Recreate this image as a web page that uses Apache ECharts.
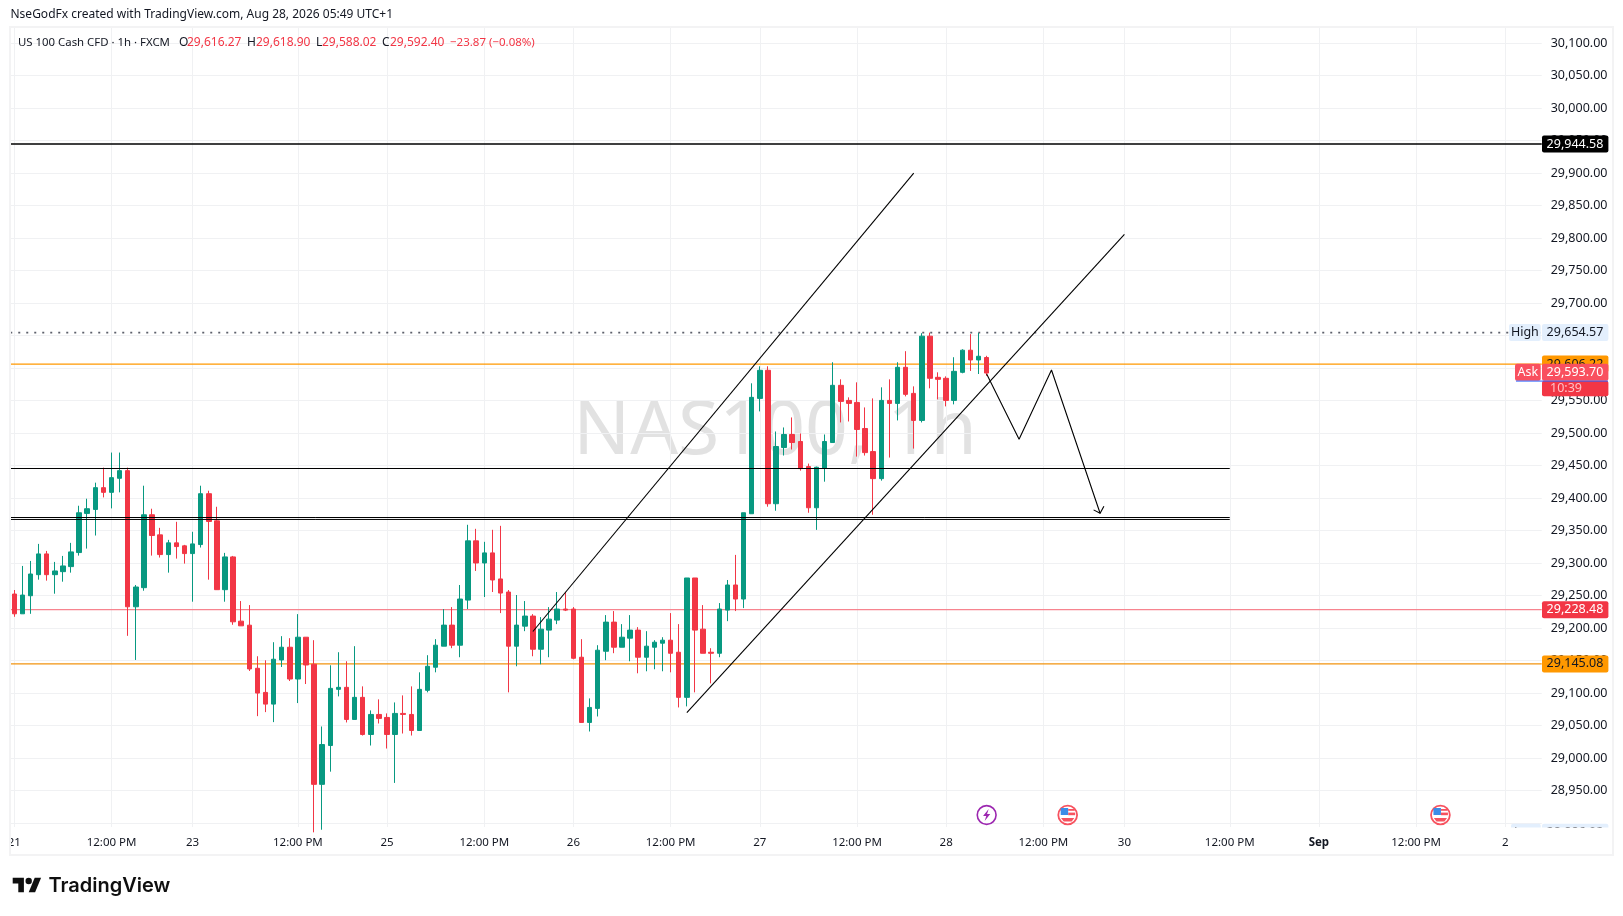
<!DOCTYPE html>
<html><head><meta charset="utf-8">
<style>html,body{margin:0;padding:0;background:#fff}#c{width:1623px;height:916px}</style>
<script src="https://cdn.jsdelivr.net/npm/echarts@6/dist/echarts.min.js"></script>
</head><body><div id="c"></div>
<script>
const opens=[29252.5,29222.1,29249.9,29282.3,29314.2,29282.3,29286.9,29294.7,29316.3,29376.5,29382.6,29416.1,29408.9,29430.5,29442.3,29232.9,29262.3,29374.4,29343.5,29313.2,29331.2,29326.6,29314.7,29328.6,29406.8,29365.1,29259.2,29309.6,29210.8,29204.6,29138.3,29101.2,29083.2,29151.1,29170.7,29121.8,29186.1,29144.5,28959.8,
29019.5,29105.9,29109,29059.6,29093.6,29036.5,29067.3,29062.7,29036.5,29068.9,29067.3,29042.6,29104.4,29139.9,29172.3,29204.7,29173.8,29243.2,29334.3,29300.3,29315.8,29275.7,29255.6,29172.3,29203.1,29218.6,29167.6,29197,29212.4,29229.4,29229.4,29155.3,29055,29076.6,29164.5,29209.3,29170.7,29184.6,29197,29155.3,
29170.7,29176.9,29181.5,29163,29093.6,29277.2,29198.5,29163,29161.4,29227.8,29266.4,29244.8,29376,29553.4,29596.6,29391.4,29477.8,29497.9,29487.1,29448.5,29385.2,29445.9,29485.5,29573.5,29550.3,29547.2,29507.1,29471.6,29430,29550.3,29545.7,29601.2,29561.1,29519.5,29649.1,29585.8,29584.3,29550.3,29593.5,29627.5,29612.5,29616.27];
const closes=[29222.1,29250.9,29283.3,29314.2,29282.3,29288,29295.7,29317.3,29377.5,29383.7,29416.1,29408.9,29431.5,29442.3,29232.9,29263.3,29374.4,29342.5,29313.2,29331.2,29325.5,29314.7,29329.6,29406.8,29364.1,29259.2,29309.6,29209.8,29203.6,29137.3,29100.2,29083.2,29152.2,29170.7,29121.8,29186.1,29143.4,28959.8,29021,
29107.4,29109,29059.6,29093.6,29036.5,29067.3,29061.2,29036.5,29068.9,29067.3,29042.6,29105.9,29141.4,29173.8,29204.7,29173.8,29244.8,29334.3,29300.3,29315.8,29274.1,29254,29172.3,29204.7,29218.6,29167.6,29198.5,29213.9,29229.4,29227.8,29153.7,29055,29078.1,29166.1,29209.3,29170.7,29186.1,29197,29155.3,29172.3,
29178.4,29181.5,29161.4,29093.6,29277.2,29197,29161.4,29161.4,29229.4,29266.4,29244.8,29377.5,29555,29596.6,29391.4,29479.4,29497.9,29485.5,29445.4,29385.2,29447.5,29487.1,29573.5,29548.8,29545.7,29505.6,29470,29430,29550.3,29545.7,29601.2,29559.6,29519.5,29649.1,29584.3,29582.7,29550.3,29595,29627.5,29612.5,29618.2,29592.4];
const lows=[29217.5,29222.1,29222.1,29274.6,29273.1,29253,29271.5,29285.4,29311.6,29322.4,29342.5,29401.1,29384.2,29408.9,29188.2,29151.1,29257.6,29311.6,29308.6,29285.4,29307,29299.3,29240.7,29324,29274.6,29258.7,29240.7,29205.2,29203.6,29134.2,29064.7,29070.9,29055.5,29140.3,29118.7,29084.8,29114.1,28886,28890,
28979.3,29095.1,29055,29059.6,29034.9,29019.5,29053.4,29014.9,28962,29038,29034.9,29042.6,29101.3,29132.1,29172.3,29169.2,29155.3,29229.4,29288,29247.9,29255.6,29223.2,29101.3,29141.4,29195.4,29156.8,29144.5,29155.3,29206.2,29226.3,29152.2,29055,29041.1,29064.2,29150.7,29161.5,29170.7,29149.1,29130.6,29133.7,
29136.8,29133.7,29132.1,29078.1,29079.7,29101.3,29161.4,29115.1,29155.3,29210.8,29226.3,29230.9,29376,29533.4,29386.8,29380.6,29465.5,29474.8,29442.3,29377.5,29351.2,29425.3,29485.5,29516.4,29517.9,29463.9,29465.5,29374.4,29426.9,29462.4,29519.5,29556.5,29476.2,29516.4,29568.9,29551.9,29541.1,29544.2,29592,29595.6,29590.9,29588.02];
const highs=[29258.7,29295.7,29303.4,29329.6,29318.8,29301.9,29311.1,29331.2,29388.3,29399.1,29423.8,29446.9,29470.1,29470.1,29446.9,29266.4,29419.1,29383.7,29354.3,29335.8,29363.6,29328.1,29348.2,29419.1,29411.4,29386.7,29315.8,29311.1,29241.7,29235.5,29156.8,29150.6,29178.4,29187.7,29184.6,29221.6,29186.1,29181.5,29048.8,
29142.9,29163,29149.1,29172.3,29110.5,29073.5,29090.5,29068.9,29085.8,29096.6,29110.5,29132.1,29158.4,29183.1,29229.4,29232.4,29266.4,29359,29352.8,29332.8,29351.3,29357.4,29258.7,29251,29241.7,29221.6,29217,29232.4,29255.6,29255.6,29232.4,29183.1,29092,29173.8,29220.1,29226.3,29206.2,29220.1,29201.6,29195.4,
29181.5,29186.1,29223.2,29206.2,29277.2,29277.2,29235.5,29169.2,29238.6,29274.1,29312.7,29377.5,29576.6,29602.8,29602.8,29502.5,29508.7,29524.1,29499.4,29453.1,29448.5,29497.9,29609,29582.7,29555,29578.1,29539.5,29553.4,29570.4,29582.7,29609,29626,29571.9,29653.7,29654.57,29593.5,29587.3,29616.7,29629,29652.2,29654,29618.9];

const yTicks=[28900,28950,29000,29050,29100,29150,29200,29250,29300,29350,29400,29450,29500,29550,29600,29650,29700,29750,29800,29850,29900,29950,30000,30050,30100];
const yLabelTicks=yTicks.filter(v=>v!==28900);
const tickIndexes=[0,12,22,35,46,58,69,81,92,104,115,127,137,150,161,173,184];
const tickLabels=['21','12:00 PM','23','12:00 PM','25','12:00 PM','26','12:00 PM','27','12:00 PM','28','12:00 PM','30','12:00 PM','Sep','12:00 PM','2'];
const slotCount=189;

const lowerLevels=[29654.57,29606.22,29228.48,29145.08];
const blackLevels=[29944.58,29445.6,29370.2,29367.2];
const blackLevelEnds=[null,150,150,150];
const upperChannelX=[64,111], upperChannelY=[29194.9,29900];
const lowerChannelX=[83,137], lowerChannelY=[29070,29805.5];
const pathX=[120,124,128,134], pathY=[29591,29490.5,29597,29376.7];

const tagPrices=[29944.58,29654.57,29606.22,29228.48,29145.08,28886,29593.7];
const tagTexts=['29,944.58','29,654.57','29,606.22','29,228.48','29,145.08','28,886.02','29,593.70'];
const sideTexts=['','High','','','','Low','Ask'];
const countdownText='10:39';
const eventSlots=[120,130,176];
const eventKinds=['bolt','flag','flag'];

const FONT='"Noto Sans"';
const INK='#131722', GREEN='#089981', RED='#f23645';
const categories=Array.from({length:slotCount},(_,i)=>{const k=tickIndexes.indexOf(i);return k>=0?tickLabels[k]:'';});
const candleData=opens.map((o,i)=>[o,closes[i],lows[i],highs[i]]);
const isTick=i=>tickIndexes.includes(i);
const fmtPrice=v=>v.toLocaleString('en-US',{minimumFractionDigits:2,maximumFractionDigits:2});

const lowerStyles=[
 {stroke:'#5d606b',lineWidth:1.6,lineDash:[2,6]},
 {stroke:'#ff9800',lineWidth:1.3},
 {stroke:'#f7848f',lineWidth:1.2},
 {stroke:'#f2930f',lineWidth:1.4}];

function hLine(params,api,y,xEnd,style){
  const cs=params.coordSys;
  return {type:'line',shape:{x1:cs.x,y1:y,x2:xEnd,y2:y},style:Object.assign({fill:null},style),silent:true};
}
const tagStyles=[
 {bg:'#000000',fg:'#ffffff'},
 {bg:'#e3effd',fg:INK},
 {bg:'#ff9800',fg:INK},
 {bg:'#f23645',fg:'#ffffff'},
 {bg:'#ff9800',fg:INK},
 {bg:'#e3effd',fg:INK},
 {bg:'#f9505f',fg:'#ffffff'}];

function box(x,y,w,h,fill){return {type:'rect',shape:{x,y,width:w,height:h,r:2},style:{fill}};}
function label(x,y,text,fill,align){return {type:'text',x,y,style:{text,fill,font:'12.5px '+FONT,align:align||'center',verticalAlign:'middle'}};}

function renderEvent(params,api){
  const x=api.coord([api.value(0),29000])[0], y=815, k=eventKinds[params.dataIndex];
  if(k==='bolt'){
    return {type:'group',children:[
      {type:'circle',shape:{cx:x,cy:y,r:9.4},style:{fill:'#fff',stroke:'#9c27b0',lineWidth:1.6}},
      {type:'polygon',shape:{points:[[x+2,y-6],[x-3.6,y+1],[x-0.4,y+1],[x-2,y+6],[x+3.6,y-1],[x+0.4,y-1]]},style:{fill:'#9c27b0'}}
    ]};
  }
  return {type:'group',children:[
    {type:'circle',shape:{cx:x,cy:y,r:9.4},style:{fill:'#fff',stroke:'#f7525f',lineWidth:1.8}},
    {type:'rect',shape:{x:x-7,y:y-7,width:7.5,height:7},style:{fill:'#3c8ce7'}},
    {type:'rect',shape:{x:x+0.5,y:y-6,width:6.5,height:1.8},style:{fill:'#f7525f'}},
    {type:'rect',shape:{x:x+0.5,y:y-2.4,width:7,height:2.6},style:{fill:'#f7525f'}},
    {type:'polygon',shape:{points:[[x-6.6,y+3],[x+6.6,y+3],[x+4,y+6.6],[x-4,y+6.6]]},style:{fill:'#f7525f'}}
  ]};
}

const option={
  animation:false,backgroundColor:'#ffffff',
  textStyle:{fontFamily:FONT},
  grid:{left:10.25,top:27,width:8.103*slotCount,height:800,containLabel:false},
  xAxis:{type:'category',data:categories,boundaryGap:true,
    axisLine:{show:false},axisTick:{show:false,alignWithLabel:true,interval:(i)=>isTick(i)},
    splitLine:{show:true,alignWithLabel:true,interval:(i)=>isTick(i),lineStyle:{color:'#f0f1f3',width:1}},
    axisLabel:{interval:(i)=>isTick(i),color:INK,fontSize:11.5,fontFamily:FONT,margin:10,
      formatter:(v)=>v==='Sep'?'{b|Sep}':v,rich:{b:{fontWeight:'bold',fontSize:11.5,fontFamily:FONT,color:INK}}}},
  yAxis:{type:'value',position:'right',scale:true,min:28894.2,max:30124.6,
    axisLine:{show:false},axisTick:{show:false,customValues:yTicks},
    splitLine:{show:true,lineStyle:{color:'#f0f1f3',width:1}},
    axisLabel:{customValues:yLabelTicks,color:INK,fontSize:12.5,fontFamily:FONT,margin:9,padding:[0,0,2,0],showMinLabel:true,showMaxLabel:true,
      formatter:(v)=>fmtPrice(v)}},
  graphic:[
    {type:'text',z:0,silent:true,style:{x:775,y:433,text:'NAS100, 1h',fill:'#e2e2e2',font:'75px '+FONT,align:'center',verticalAlign:'middle'}},
    {type:'rect',z:50,shape:{x:0,y:827.5,width:9.4,height:26},style:{fill:'#fff'}},
    {type:'rect',z:50,shape:{x:1510,y:827.5,width:100,height:14},style:{fill:'#fff'}},
    {type:'rect',z:51,shape:{x:10,y:27,width:1603,height:828},style:{fill:null,stroke:'#f3f3f4',lineWidth:2}},
    {type:'text',z:60,style:{x:10.5,y:15,text:'NseGodFx created with TradingView.com, Aug 28, 2026 05:49 UTC+1',fill:INK,font:'12px '+FONT,verticalAlign:'middle'}},
    {type:'text',z:60,style:{x:18,y:42.5,text:'US 100 Cash CFD · 1h · FXCM',fill:INK,font:'11.4px '+FONT,verticalAlign:'middle'}},
    {type:'text',z:60,style:{x:179,y:42.5,text:'O',fill:INK,font:'12px '+FONT,verticalAlign:'middle'}},
    {type:'text',z:60,style:{x:187,y:42.5,text:'29,616.27',fill:RED,font:'12px '+FONT,verticalAlign:'middle'}},
    {type:'text',z:60,style:{x:247,y:42.5,text:'H',fill:INK,font:'12px '+FONT,verticalAlign:'middle'}},
    {type:'text',z:60,style:{x:256,y:42.5,text:'29,618.90',fill:RED,font:'12px '+FONT,verticalAlign:'middle'}},
    {type:'text',z:60,style:{x:316,y:42.5,text:'L',fill:INK,font:'12px '+FONT,verticalAlign:'middle'}},
    {type:'text',z:60,style:{x:322,y:42.5,text:'29,588.02',fill:RED,font:'12px '+FONT,verticalAlign:'middle'}},
    {type:'text',z:60,style:{x:382,y:42.5,text:'C',fill:INK,font:'12px '+FONT,verticalAlign:'middle'}},
    {type:'text',z:60,style:{x:390,y:42.5,text:'29,592.40',fill:RED,font:'12px '+FONT,verticalAlign:'middle'}},
    {type:'text',z:60,style:{x:450,y:42.5,text:'−23.87 (−0.08%)',fill:RED,font:'11.5px '+FONT,verticalAlign:'middle'}},
    {type:'group',z:60,x:12.7,y:874.6,scaleX:0.8,scaleY:0.8,children:[
      {type:'polygon',z:60,shape:{points:[[0,4],[14,4],[14,22],[7,22],[7,11],[0,11]]},style:{fill:'#0f0f0f'}},
      {type:'polygon',z:60,shape:{points:[[20,22],[27.5,4],[35.5,4],[28,22]]},style:{fill:'#0f0f0f'}},
      {type:'circle',z:60,shape:{cx:20,cy:8,r:4},style:{fill:'#0f0f0f'}}]},
    {type:'text',z:60,style:{x:48.5,y:886,text:'TradingView',fill:'#0f0f0f',font:'600 20px Inter',verticalAlign:'middle'}}
  ],
  series:[
    {type:'custom',name:'levels-under',z:1,clip:true,silent:true,coordinateSystem:'cartesian2d',encode:{y:0},
      data:lowerLevels.map(v=>[v]),
      renderItem:(params,api)=>{
        const y=api.coord([0,api.value(0)])[1], cs=params.coordSys;
        return hLine(params,api,y,cs.x+cs.width,lowerStyles[params.dataIndex]);
      }},
    {type:'candlestick',name:'US100',z:2,data:candleData,barWidth:5,
      itemStyle:{color:GREEN,color0:RED,borderColor:GREEN,borderColor0:RED,borderWidth:1}},
    {type:'custom',name:'levels-black',z:3,clip:true,silent:true,coordinateSystem:'cartesian2d',encode:{y:0},
      data:blackLevels.map(v=>[v]),
      renderItem:(params,api)=>{
        const i=params.dataIndex, y=api.coord([0,api.value(0)])[1], cs=params.coordSys, e=blackLevelEnds[i];
        const xEnd=e===null?cs.x+cs.width:api.coord([e,api.value(0)])[0];
        return hLine(params,api,y,xEnd,{stroke:'#000000',lineWidth:i===0?1.5:(i===1?1.2:1)});
      }},
    {type:'line',name:'upper',z:4,symbol:'none',silent:true,data:upperChannelX.map((x,i)=>[x,upperChannelY[i]]),lineStyle:{color:'#000',width:1.1}},
    {type:'line',name:'lower',z:4,symbol:'none',silent:true,data:lowerChannelX.map((x,i)=>[x,lowerChannelY[i]]),lineStyle:{color:'#000',width:1.1}},
    {type:'line',name:'path',z:4,symbol:'none',silent:true,data:pathX.map((x,i)=>[x,pathY[i]]),lineStyle:{color:'#000',width:1.1}},
    {type:'custom',name:'arrowhead',z:4,silent:true,coordinateSystem:'cartesian2d',encode:{x:0,y:1},
      data:[[pathX[3],pathY[3]]],
      renderItem:(params,api)=>{
        const p=api.coord([api.value(0),api.value(1)]);
        return {type:'polyline',shape:{points:[[p[0]-6.5,p[1]-3.4],[p[0],p[1]],[p[0]+3.8,p[1]-7]]},style:{fill:null,stroke:'#000',lineWidth:1.1}};
      }},
    {type:'custom',name:'events',z:6,silent:true,coordinateSystem:'cartesian2d',encode:{x:0},clip:false,
      data:eventSlots.map(v=>[v]),renderItem:renderEvent},
    {type:'custom',name:'tags',z:20,silent:true,coordinateSystem:'cartesian2d',encode:{y:0},clip:false,
      data:tagPrices.map(v=>[v]),
      renderItem:(params,api)=>{
        const i=params.dataIndex, y=api.coord([0,api.value(0)])[1], s=tagStyles[i], side=sideTexts[i];
        const kids=[];
        if(side){
          const sx=side==='Ask'?1515:(side==='Low'?1511:1509);
          kids.push(box(sx,y-8.5,1540.7-sx,17,s.bg));
          kids.push(label((sx+1540.7)/2,y,side,s.fg));
        }
        kids.push(box(1542,y-8.5,66.4,17,s.bg));
        kids.push(label(1575,y,tagTexts[i],s.fg));
        if(side==='Ask'){
          kids.unshift(box(1542,y+8.5,66.4,15.5,'#f23645'));
          kids.push(label(1550,y+16,countdownText,'#ffc0c6','left'));
          kids.push({type:'line',shape:{x1:1516,y1:y+8.9,x2:1608,y2:y+8.9},style:{stroke:'#2962ff',lineWidth:1}});
        }
        return {type:'group',children:kids};
      }}
  ]
};
const chart=echarts.init(document.getElementById('c'),null,{renderer:'canvas',width:1623,height:916});
chart.setOption(option);
</script></body></html>
